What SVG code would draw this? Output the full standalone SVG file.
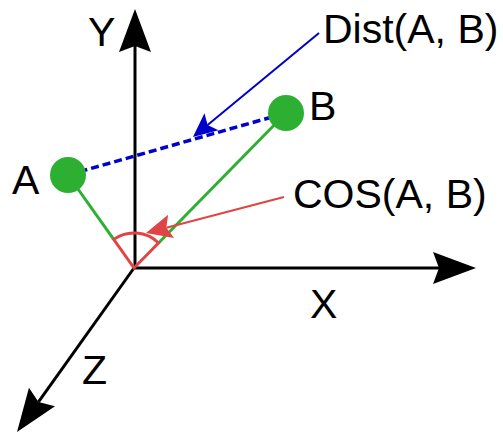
<svg xmlns="http://www.w3.org/2000/svg" width="503" height="435" viewBox="0 0 503 435">
<style>
text{font-family:"Liberation Sans",Arial,sans-serif;font-size:41px;fill:#000}
.axis{stroke:#000;stroke-width:3;fill:none}
.green{stroke:#2db032;stroke-width:3;fill:none}
.pt{fill:#2db032}
.blue{stroke:#0000cc;stroke-width:2;fill:none}
.dash{stroke:#0000cc;stroke-width:3.5;fill:none;stroke-dasharray:8 4}
.red{stroke:#e04444;stroke-width:2;fill:none}
.wedge{stroke:#e04444;stroke-width:3;fill:none;stroke-linejoin:miter}
</style>
<defs>
<marker id="axArrow" markerUnits="userSpaceOnUse" markerWidth="44" markerHeight="34" refX="6" refY="16" orient="auto" overflow="visible">
<path d="M0,0 L43,16 L0,32 L6,16 Z" fill="#000"/>
</marker>
<marker id="blueArrow" markerUnits="userSpaceOnUse" markerWidth="26" markerHeight="24" refX="5" refY="11" orient="auto" overflow="visible">
<path d="M0,0 L24,11 L0,22 L5,11 Z" fill="#0000cc"/>
</marker>
<marker id="redArrow" markerUnits="userSpaceOnUse" markerWidth="28" markerHeight="26" refX="5" refY="12" orient="auto" overflow="visible">
<path d="M0,0 L26,12 L0,24 L5,12 Z" fill="#e04444"/>
</marker>
</defs>
<g id="connectors">
<line id="axis-y" class="axis" x1="135" y1="268" x2="135" y2="46" marker-end="url(#axArrow)"/>
<line id="axis-x" class="axis" x1="134" y1="268" x2="439" y2="268" marker-end="url(#axArrow)"/>
<line id="axis-z" class="axis" x1="134" y1="268" x2="38.5" y2="401.9" marker-end="url(#axArrow)"/>
<line id="vec-a" class="green" x1="68" y1="175" x2="113.7" y2="239.4"/>
<line id="vec-b" class="green" x1="286" y1="113" x2="158.5" y2="243"/>
<path id="angle" class="wedge" d="M134,268 L113.7,239.4 A35,35 0 0 1 158.5,243 Z"/>
<line id="dist" class="dash" x1="68" y1="175" x2="286" y2="113"/>
<line id="dist-pointer" class="blue" x1="319" y1="33" x2="207.6" y2="124.9" marker-end="url(#blueArrow)"/>
<line id="cos-pointer" class="red" x1="284" y1="197" x2="166.3" y2="227.7" marker-end="url(#redArrow)"/>
</g>
<g id="node-A"><circle class="pt" cx="68" cy="175" r="18"/><text x="12" y="194">A</text></g>
<g id="node-B"><circle class="pt" cx="286" cy="113" r="18"/><text x="309" y="120">B</text></g>
<g id="label-Y"><text x="88" y="46">Y</text></g>
<g id="label-X"><text x="310" y="318">X</text></g>
<g id="label-Z"><text x="82" y="384">Z</text></g>
<g id="label-dist"><text x="323" y="43">Dist(A, B)</text></g>
<g id="label-cos"><text x="293" y="208">COS(A, B)</text></g>
</svg>
